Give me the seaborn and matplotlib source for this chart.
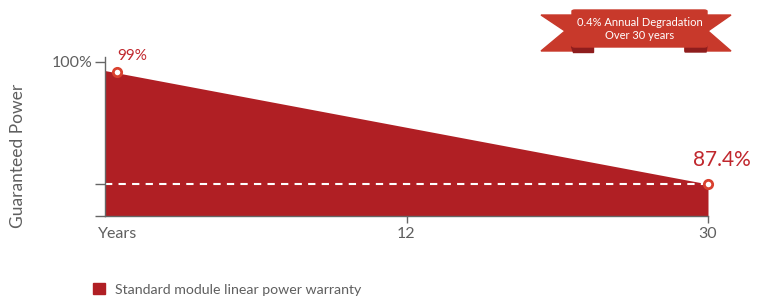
import matplotlib
matplotlib.use("Agg")
import matplotlib.pyplot as plt
import matplotlib.patches as mpatches
import seaborn as sns

# -----------------------------
# Data
# -----------------------------
area_years = [0, 30]
area_power = [99.1, 87.4]
point_years = [0.6, 30]
point_power = [99, 87.4]
point_labels = ["99%", "87.4%"]
xtick_pos = [0.65, 15, 30]
xtick_labels = ["Years", "12", "30"]
ytick_pos = [84.1, 87.4, 100]
ytick_labels = ["", "", "100%"]
legend_label = "Standard module linear power warranty"
banner_text = "0.4% Annual Degradation\nOver 30 years"

RED = "#B01F24"
MARK = "#D9412F"
GREY = "#5f5f5f"

sns.set_theme(style="white")
plt.rcParams["font.family"] = ["Lato", "DejaVu Sans"]

W, H = 768, 298
fig = plt.figure(figsize=(W / 100, H / 100), dpi=100)
ax = fig.add_axes([105 / W, 1 - 216 / H, (708 - 105) / W, (216 - 57) / H])

ax.fill_between(area_years, area_power, 84.1, color=RED, lw=0)
ax.axhline(point_power[1], color="white", ls=(0, (3.5, 3)), lw=1.5)
sns.scatterplot(x=point_years, y=point_power, ax=ax, s=36, color="white",
                edgecolor=MARK, linewidth=2, zorder=5, clip_on=False)

ax.annotate(point_labels[0], (point_years[0], point_power[0]), xytext=(0, 6),
            textcoords="offset points", color="#C0272D", fontsize=11, va="bottom", ha="left")
ax.annotate(point_labels[1], (point_years[1], point_power[1]), xytext=(10, 10),
            textcoords="offset points", color="#C0272D", fontsize=15, va="bottom", ha="center")

ax.set_xlim(0, 30)
ax.set_ylim(84.1, 100.5)
ax.set_xticks(xtick_pos, xtick_labels)
ax.set_yticks(ytick_pos, ytick_labels)
ax.tick_params(axis="both", left=True, bottom=True, colors="#666666", labelcolor=GREY,
               labelsize=11.5, length=7, width=1, direction="out", pad=2)
ax.tick_params(axis="x", length=5, pad=3)
ax.xaxis.get_major_ticks()[0].tick1line.set_visible(False)
for s in ["top", "right"]:
    ax.spines[s].set_visible(False)
for s in ["left", "bottom"]:
    ax.spines[s].set_color("#666666")
    ax.spines[s].set_linewidth(1)
ax.set_ylabel("Guaranteed Power", color=GREY, fontsize=12.5)
ax.yaxis.set_label_coords(-0.144, 0.38)
ax.yaxis.label.set_va("center")

# legend
handle = mpatches.Patch(color=RED, label=legend_label)
fig.legend(handles=[handle], loc="lower left", bbox_to_anchor=(80 / W, -0.035),
           frameon=False, fontsize=10.2, labelcolor=GREY, handlelength=0.85,
           handleheight=0.85, handletextpad=0.75)

# ribbon banner (figure pixels)
def px(pts):
    return [(x / W, 1 - y / H) for x, y in pts]

BAN = "#C8392B"
DARK = "#8E1D1D"
fig.patches.append(mpatches.Polygon(px([(572, 15), (541, 15), (565, 31), (541, 51), (593, 51), (593, 47), (572, 47)]),
                                    closed=True, color=BAN, transform=fig.transFigure, zorder=1))
fig.patches.append(mpatches.Polygon(px([(707, 15), (731, 15), (708, 31), (731, 51), (685, 51), (685, 47), (707, 47)]),
                                    closed=True, color=BAN, transform=fig.transFigure, zorder=1))
fig.patches.append(mpatches.Polygon(px([(571, 46), (593, 46), (593, 52), (573, 52)]),
                                    closed=True, color=DARK, transform=fig.transFigure, zorder=2))
fig.patches.append(mpatches.Polygon(px([(685, 46), (707, 46), (706, 52), (685, 52)]),
                                    closed=True, color=DARK, transform=fig.transFigure, zorder=2))
fig.patches.append(mpatches.FancyBboxPatch((572 / W, 1 - 47 / H), (707 - 572) / W, 37 / H,
                                           boxstyle="round,pad=0,rounding_size=0.004",
                                           color=BAN, transform=fig.transFigure, zorder=3))
fig.text(640 / W, 1 - 29 / H, banner_text, color="white", fontsize=8, ha="center",
         va="center", linespacing=1.2, zorder=4)

fig.savefig("out.png", dpi=100)
